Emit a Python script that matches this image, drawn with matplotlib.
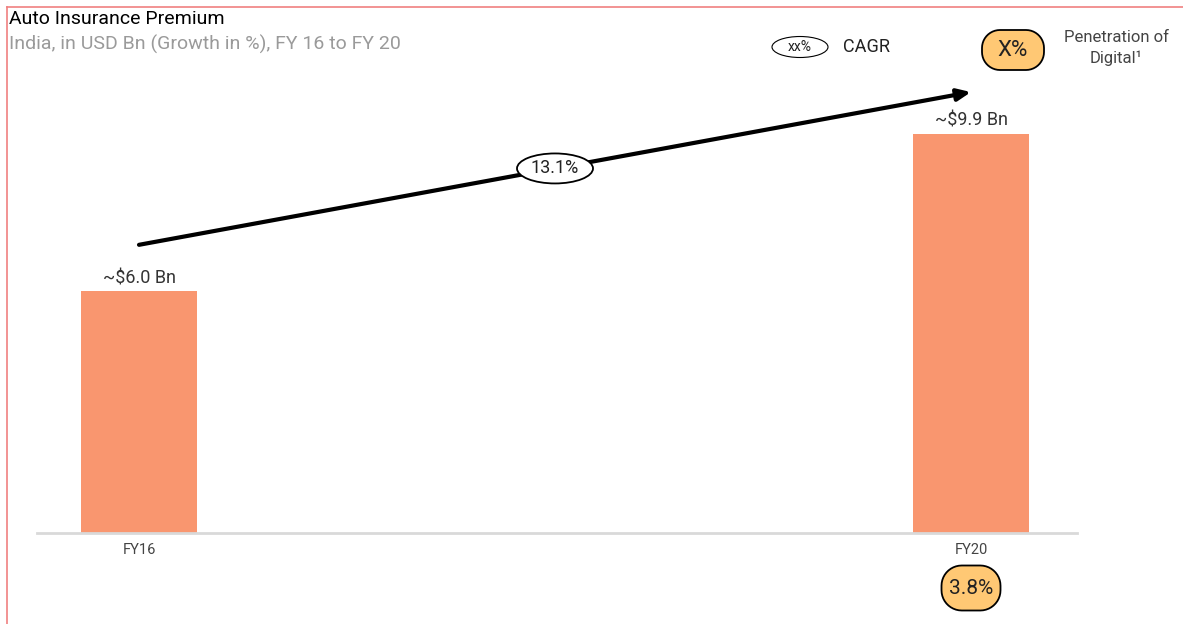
import matplotlib.pyplot as plt
import numpy as np
from matplotlib.lines import Line2D
from matplotlib.patches import Ellipse, Polygon

plt.rcParams['font.family'] = ['Roboto', 'DejaVu Sans']

years = ['FY16', 'FY20']
premium = [6.0, 9.9]
value_labels = ['~$6.0 Bn', '~$9.9 Bn']
cagr_label = '13.1%'
digital_penetration = {'FY20': '3.8%'}

BAR = '#F9966F'
BUBBLE = '#FFC874'

W, H = 1183, 624
fig = plt.figure(figsize=(W / 100, H / 100), dpi=100)


def bubble(cx, cy, w, h, label, size):
    # rounded orange "penetration" pill, drawn in display pixels
    r = min(w, h) / 2 * 0.9
    hw, hh = w / 2 - r, h / 2 - r
    pts = []
    for (sx, sy, a0) in [(1, 1, 0), (-1, 1, 90), (-1, -1, 180), (1, -1, 270)]:
        t = np.radians(np.linspace(a0, a0 + 90, 12))
        pts += list(zip(cx + sx * hw + r * np.cos(t), cy + sy * hh + r * np.sin(t)))
    fig.add_artist(Polygon(pts, closed=True, fc=BUBBLE, ec='black', lw=1.3,
                           transform=None, zorder=5))
    fig.text(cx / W, cy / H, label, ha='center', va='center', fontsize=size,
             color='#222222', zorder=6)


def oval(cx, cy, w, h, label, size, lw):
    fig.add_artist(Ellipse((cx, cy), w, h, fc='white', ec='black', lw=lw,
                           transform=None, zorder=5))
    fig.text(cx / W, cy / H, label, ha='center', va='center', fontsize=size,
             color='#222222', zorder=6)


# axes in pixel terms: x 37..1077, y 30..533 (from top)
ax = fig.add_axes([37 / W, 1 - 533 / H, 1040 / W, 503 / H])
x = list(range(len(years)))
ax.bar(x, premium, width=0.139, color=BAR, zorder=2)
ax.set_xlim(-0.1226, 1.1274)
ax.set_ylim(0, 12.48)
for s in ['top', 'right', 'left']:
    ax.spines[s].set_visible(False)
ax.spines['bottom'].set_color('#d9d9d9')
ax.spines['bottom'].set_linewidth(2)
ax.set_yticks([])
ax.set_xticks(x)
ax.set_xticklabels(years, fontsize=10.5, color='#444444')
ax.tick_params(axis='x', length=0, pad=7)

for xi, v, lab in zip(x, premium, value_labels):
    ax.text(xi, v + 0.1, lab, ha='center', va='bottom', fontsize=13,
            color='#333333')

# CAGR arrow from first bar to last bar
y0, y1 = premium[0] + 1.15, premium[-1] + 1.04
ax.annotate('', xy=(x[-1], y1), xytext=(x[0], y0),
            arrowprops=dict(arrowstyle='-|>,head_length=0.8,head_width=0.35',
                            color='black', lw=3, shrinkA=0, shrinkB=0))
mx, my = ax.transData.transform(((x[0] + x[-1]) / 2, (y0 + y1) / 2))
oval(mx, my, 76, 30, cagr_label, 13, 1.3)

# digital penetration bubble under FY20
for xi, yr in zip(x, years):
    if yr in digital_penetration:
        bx, by = ax.transData.transform((xi, 0))
        bubble(bx, by - 55, 59, 45, digital_penetration[yr], 15)

# titles
fig.text(9 / W, 1 - 19 / H, 'Auto Insurance Premium', ha='left', va='center',
         fontsize=14, color='black')
fig.text(9 / W, 1 - 44 / H, 'India, in USD Bn (Growth in %), FY 16 to FY 20',
         ha='left', va='center', fontsize=14, color='#9a9a9a')

# legend
oval(800, H - 47, 56, 21, 'xx%', 10, 0.8)
fig.text(843 / W, 1 - 47 / H, 'CAGR', ha='left', va='center', fontsize=13,
         color='#222222')
bubble(1013, H - 50, 62, 40, 'X%', 16)
fig.text(1116 / W, 1 - 48 / H, 'Penetration of\nDigital\u00b9', ha='center',
         va='center', fontsize=12, color='#444444', linespacing=1.4)

# red frame lines (top and left)
fig.add_artist(Line2D([7 / W, 1], [1 - 7 / H, 1 - 7 / H], color='#F08080', lw=1.2))
fig.add_artist(Line2D([7 / W, 7 / W], [0, 1 - 7 / H], color='#F08080', lw=1.2))

fig.savefig('out.png', dpi=100)
